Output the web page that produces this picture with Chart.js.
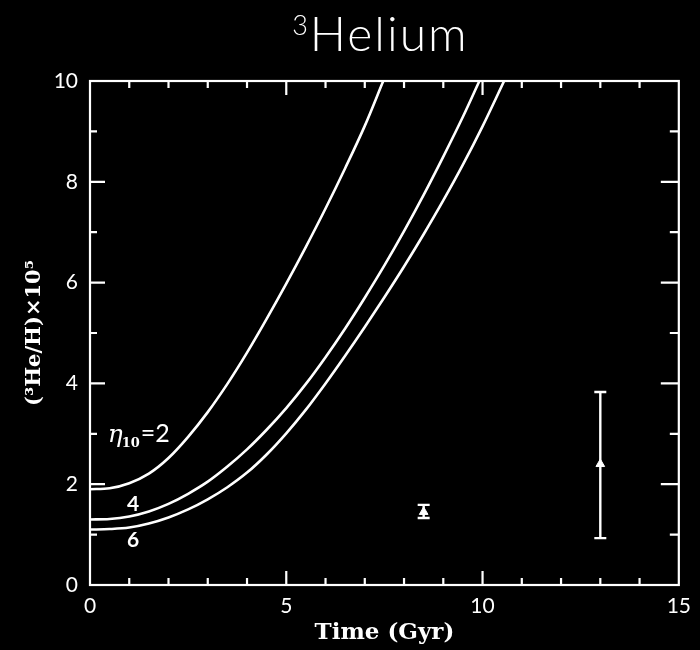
<!DOCTYPE html>
<html>
<head>
<meta charset="utf-8">
<script src="https://cdn.jsdelivr.net/npm/chart.js@4/dist/chart.umd.min.js"></script>
<style>
  html, body { margin: 0; padding: 0; background: #000; }
  canvas { display: block; }
</style>
</head>
<body>
<canvas id="chart" width="700" height="650"></canvas>
<script>
// Primordial 3He/H evolution for three baryon-to-photon ratios (eta_10 = 2, 4, 6)
const eta2Time  = [0, 0.5, 1, 1.5, 2, 2.5, 3, 3.5, 4, 4.5, 5, 5.5, 6, 6.5, 7, 7.47];
const eta2Ratio = [1.90, 1.92, 2.02, 2.21, 2.52, 2.94, 3.43, 3.99, 4.61, 5.28, 5.98, 6.71, 7.47, 8.27, 9.11, 10.0];

const eta4Time  = [0, 0.5, 1, 1.5, 2, 2.5, 3, 3.5, 4, 4.5, 5, 5.5, 6, 6.5, 7, 7.5, 8, 8.5, 9, 9.5, 9.92];
const eta4Ratio = [1.30, 1.31, 1.36, 1.46, 1.61, 1.81, 2.05, 2.35, 2.69, 3.08, 3.51, 3.99, 4.52, 5.09, 5.70, 6.34, 7.02, 7.74, 8.50, 9.29, 10.0];

const eta6Time  = [0, 0.5, 1, 1.5, 2, 2.5, 3, 3.5, 4, 4.5, 5, 5.5, 6, 6.5, 7, 7.5, 8, 8.5, 9, 9.5, 10, 10.55];
const eta6Ratio = [1.10, 1.11, 1.14, 1.22, 1.34, 1.50, 1.70, 1.94, 2.23, 2.59, 3.01, 3.48, 4.00, 4.55, 5.12, 5.71, 6.32, 6.96, 7.63, 8.34, 9.10, 10.0];

// Observed abundances with error ranges
const obsTime  = [8.5, 13.0];
const obsRatio = [1.45, 2.40];
const obsLow   = [1.33, 0.93];
const obsHigh  = [1.59, 3.83];

// Curve annotations (eta_10 values) placed in data units
const curveEta       = ['2', '4', '6'];
const curveLabelTime = [0.45, 1.1, 1.1];
const curveLabelY    = [2.84, 1.60, 0.88];

// Axis ranges and tick labels
const timeTicks  = [0, 5, 10, 15];
const ratioTicks = [0, 2, 4, 6, 8, 10];
const timeRange  = [0, 15];
const ratioRange = [0, 10];

const toPoints = (xs, ys) => xs.map((v, i) => ({ x: v, y: ys[i] }));

const curveStyle = {
  borderColor: '#ffffff',
  borderWidth: 2.6,
  pointRadius: 0,
  fill: false,
  cubicInterpolationMode: 'monotone'
};

// Black background
const background = {
  id: 'background',
  beforeDraw(chart) {
    const { ctx, width, height } = chart;
    ctx.save();
    ctx.fillStyle = '#000';
    ctx.fillRect(0, 0, width, height);
    ctx.restore();
  }
};

// Plot frame, inward ticks on all four sides, error bars and curve labels
const decorations = {
  id: 'decorations',
  afterDatasetsDraw(chart) {
    const { ctx, chartArea: a, scales: { x, y } } = chart;
    ctx.save();
    ctx.strokeStyle = '#fff';
    ctx.fillStyle = '#fff';
    ctx.lineWidth = 2.2;
    ctx.strokeRect(a.left, a.top, a.right - a.left, a.bottom - a.top);

    ctx.beginPath();
    for (let t = timeRange[0] + 1; t < timeRange[1]; t++) {
      const px = x.getPixelForValue(t);
      const len = t % 5 === 0 ? 14 : 7;
      ctx.moveTo(px, a.bottom); ctx.lineTo(px, a.bottom - len);
      ctx.moveTo(px, a.top);    ctx.lineTo(px, a.top + len);
    }
    for (let v = ratioRange[0] + 1; v < ratioRange[1]; v++) {
      const py = y.getPixelForValue(v);
      const major = v % 2 === 0;
      ctx.moveTo(a.left, py);  ctx.lineTo(a.left + (major ? 15 : 7), py);
      ctx.moveTo(a.right, py); ctx.lineTo(a.right - (major ? 18 : 9), py);
    }
    ctx.stroke();

    // error bars
    ctx.lineWidth = 2.4;
    ctx.beginPath();
    obsTime.forEach((t, i) => {
      const px = x.getPixelForValue(t);
      const lo = y.getPixelForValue(obsLow[i]);
      const hi = y.getPixelForValue(obsHigh[i]);
      ctx.moveTo(px, lo); ctx.lineTo(px, hi);
      ctx.moveTo(px - 6, lo); ctx.lineTo(px + 6, lo);
      ctx.moveTo(px - 6, hi); ctx.lineTo(px + 6, hi);
    });
    ctx.stroke();

    // curve labels
    curveEta.forEach((label, i) => {
      let px = x.getPixelForValue(curveLabelTime[i]);
      const py = y.getPixelForValue(curveLabelY[i]);
      if (i === 0) {
        ctx.textAlign = 'left';
        ctx.textBaseline = 'alphabetic';
        ctx.font = 'italic 25px "DejaVu Serif"';
        ctx.fillText('η', px, py);
        px += ctx.measureText('η').width - 1;
        ctx.font = 'bold 13px "DejaVu Serif"';
        ctx.fillText('10', px, py + 5);
        px += ctx.measureText('10').width + 1;
        ctx.font = '25px Lato';
        ctx.fillText('=' + label, px, py);
      } else {
        ctx.textAlign = 'center';
        ctx.textBaseline = 'middle';
        ctx.font = 'bold 21px Lato';
        ctx.fillText(label, px, py);
      }
    });
    ctx.restore();
  }
};

// Chart heading, centred over the plotting area
const heading = {
  id: 'heading',
  afterDraw(chart) {
    const { ctx, chartArea: a } = chart;
    ctx.save();
    ctx.fillStyle = '#fff';
    ctx.textBaseline = 'alphabetic';
    ctx.textAlign = 'left';
    ctx.letterSpacing = '2px';
    const main = 'Helium';
    ctx.font = '300 48px Lato';
    const mainW = ctx.measureText(main).width;
    ctx.font = '300 27px Lato';
    const supW = ctx.measureText('3').width;
    const cx = (a.left + a.right) / 2 - 4;
    const startX = cx - (mainW + supW) / 2;
    ctx.fillText('3', startX, 35);
    ctx.font = '300 48px Lato';
    ctx.fillText(main, startX + supW, 51);
    ctx.restore();
  }
};

new Chart(document.getElementById('chart'), {
  type: 'line',
  data: {
    datasets: [
      Object.assign({ label: 'η10 = 2', data: toPoints(eta2Time, eta2Ratio) }, curveStyle),
      Object.assign({ label: 'η10 = 4', data: toPoints(eta4Time, eta4Ratio) }, curveStyle),
      Object.assign({ label: 'η10 = 6', data: toPoints(eta6Time, eta6Ratio) }, curveStyle),
      {
        type: 'scatter',
        label: 'Observed',
        data: toPoints(obsTime, obsRatio),
        pointStyle: 'triangle',
        pointRadius: 5,
        backgroundColor: '#fff',
        borderColor: '#fff',
        borderWidth: 1
      }
    ]
  },
  options: {
    responsive: false,
    animation: false,
    layout: { padding: { top: 81, right: 21, left: 0, bottom: 0 } },
    plugins: {
      legend: { display: false },
      tooltip: { enabled: false },
      title: { display: false }
    },
    scales: {
      x: {
        type: 'linear',
        min: timeRange[0],
        max: timeRange[1],
        afterBuildTicks(scale) { scale.ticks = timeTicks.map(v => ({ value: v })); },
        afterFit(scale) { scale.height = 65; },
        grid: { display: false, drawTicks: false },
        border: { display: false },
        ticks: {
          color: '#fff',
          font: { family: 'Lato', size: 21 },
          padding: 9,
          maxRotation: 0
        },
        title: {
          display: true,
          text: 'Time (Gyr)',
          color: '#fff',
          font: { family: 'DejaVu Serif', weight: 'bold', size: 23 },
          padding: { top: 0, bottom: 3 }
        }
      },
      y: {
        type: 'linear',
        min: ratioRange[0],
        max: ratioRange[1],
        afterBuildTicks(scale) { scale.ticks = ratioTicks.map(v => ({ value: v })); },
        afterFit(scale) { scale.width = 90; },
        grid: { display: false, drawTicks: false },
        border: { display: false },
        ticks: {
          color: '#fff',
          font: { family: 'Lato', size: 21 },
          padding: 12
        },
        title: {
          display: true,
          text: '(³He/H)×10⁵',
          color: '#fff',
          font: { family: 'DejaVu Serif', weight: 'bold', size: 21 },
          padding: { top: 22, bottom: 0 }
        }
      }
    }
  },
  plugins: [background, decorations, heading]
});
</script>
</body>
</html>
